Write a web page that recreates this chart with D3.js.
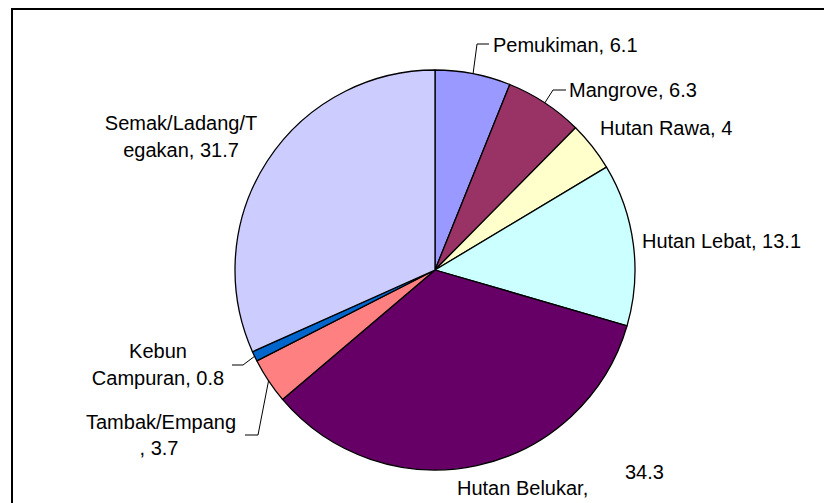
<!DOCTYPE html>
<html>
<head>
<meta charset="utf-8">
<script src="https://cdn.jsdelivr.net/npm/d3@7"></script>
<style>
  html, body { margin: 0; padding: 0; background: #fff; }
  svg { display: block; }
  text { font-family: "Liberation Sans", Arial, sans-serif; font-size: 20px; fill: #000; }
</style>
</head>
<body>
<svg id="chart" width="824" height="503"></svg>
<script>
// ---- data ----
const categories = ["Pemukiman", "Mangrove", "Hutan Rawa", "Hutan Lebat", "Hutan Belukar", "Tambak/Empang", "Kebun Campuran", "Semak/Ladang/Tegakan"];
const values = [6.1, 6.3, 4, 13.1, 34.3, 3.7, 0.8, 31.7];
const colors = ["#9999FF", "#993366", "#FFFFCC", "#CCFFFF", "#660066", "#FF8080", "#0066CC", "#CCCCFF"];
// label text lines, as displayed (wrapped like the original)
const labelLines = [
  ["Pemukiman, 6.1"],
  ["Mangrove, 6.3"],
  ["Hutan Rawa, 4"],
  ["Hutan Lebat, 13.1"],
  ["Hutan Belukar,", "34.3"],
  ["Tambak/Empang", ", 3.7"],
  ["Kebun", "Campuran, 0.8"],
  ["Semak/Ladang/T", "egakan, 31.7"]
];

// ---- layout ----
const W = 824, H = 503;
const cx = 435, cy = 270, R = 200;
// label placement relative to pie centre (anchor: start/middle; lines: [dx, dy]; leader: elbow & end)
const labelLayout = [
  {anchor: "start",  lines: [[58, -225]],             leader: [[42, -226], [54, -226]]},
  {anchor: "start",  lines: [[134, -180]],            leader: [[118, -180], [131, -180]]},
  {anchor: "start",  lines: [[165, -142]]},
  {anchor: "start",  lines: [[207, -29]]},
  {anchor: "start",  lines: [[22, 218], [190, 202]]},
  {anchor: "middle", lines: [[-274, 152], [-276, 178]],  leader: [[-177, 165], [-190, 165]]},
  {anchor: "middle", lines: [[-277, 81], [-277, 108]],   leader: [[-192, 95], [-203, 95]]},
  {anchor: "middle", lines: [[-254, -147], [-254, -120]]}
];

const svg = d3.select("#chart");

// frame
svg.append("line").attr("x1", 12).attr("x2", W).attr("y1", 9).attr("y2", 9)
  .attr("stroke", "#000").attr("stroke-width", 2);
svg.append("line").attr("x1", 12).attr("x2", 12).attr("y1", 8).attr("y2", H)
  .attr("stroke", "#000").attr("stroke-width", 2);

const pie = d3.pie().sort(null).value(d => d)(values);
const arc = d3.arc().innerRadius(0).outerRadius(R);

const g = svg.append("g").attr("transform", `translate(${cx},${cy})`);

g.selectAll("path.slice").data(pie).enter().append("path")
  .attr("class", "slice")
  .attr("d", arc)
  .attr("fill", (d, i) => colors[i])
  .attr("stroke", "#000")
  .attr("stroke-width", 1.3)
  .attr("stroke-linejoin", "round");

// leader lines
pie.forEach((d, i) => {
  const L = labelLayout[i];
  if (!L.leader) return;
  const mid = (d.startAngle + d.endAngle) / 2;
  const p0 = [R * Math.sin(mid), -R * Math.cos(mid)];
  const pts = [p0].concat(L.leader);
  g.append("path")
    .attr("d", d3.line()(pts))
    .attr("fill", "none")
    .attr("stroke", "#000")
    .attr("stroke-width", 1);
});

// labels
labelLines.forEach((lines, i) => {
  const L = labelLayout[i];
  lines.forEach((t, j) => {
    g.append("text")
      .attr("x", L.lines[j][0])
      .attr("y", L.lines[j][1])
      .attr("dy", "0.36em")
      .attr("text-anchor", L.anchor)
      .text(t);
  });
});
</script>
</body>
</html>
